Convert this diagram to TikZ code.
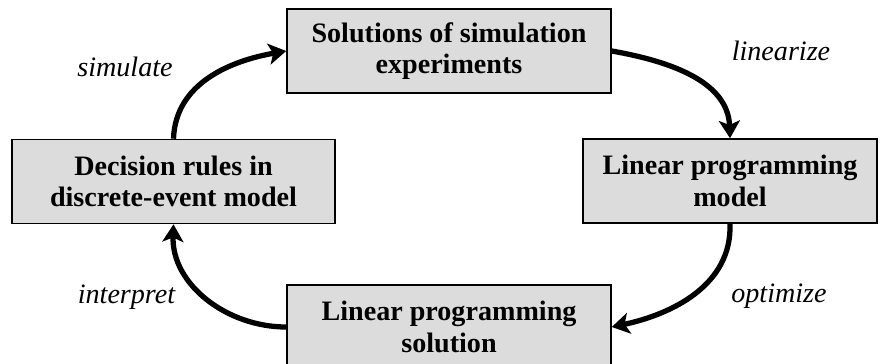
\documentclass[tikz,border=0pt]{standalone}
\usepackage{fontspec}
\setmainfont{Liberation Serif}
\usetikzlibrary{arrows.meta}
\definecolor{boxgray}{HTML}{DCDCDC}

\begin{document}
\begin{tikzpicture}[
    stage/.style={draw=black, line width=0.9pt, fill=boxgray, align=center,
      inner sep=0pt, minimum height=1.68cm,
      font=\fontsize{16}{18}\selectfont\bfseries},
    loop/.style={line width=3pt, -{Stealth[length=10pt,width=12pt,inset=2.5pt]}},
    verb/.style={anchor=base, font=\fontsize{16}{18}\selectfont\itshape}]
  \useasboundingbox (0,0) rectangle (17.6,7.26);
  % Boxes
  \node[stage, minimum width=6.48cm] (experiments) at (8.98,6.24) {Solutions of simulation\\experiments};
  \node[stage, minimum width=5.88cm] (lpmodel) at (14.6,3.64) {Linear programming\\model};
  \node[stage, minimum width=6.48cm] (lpsolution) at (8.98,0.72) {Linear programming\\solution};
  \node[stage, minimum width=6.46cm] (rules) at (3.47,3.63) {Decision rules in\\discrete-event model};
  % Cycle arrows
  \draw[loop] (rules.north) to[out=88,in=190] (experiments.west);
  \draw[loop] (experiments.east) to[out=-10,in=92] (lpmodel.north);
  \draw[loop] (lpmodel.south) to[out=-88,in=12] (lpsolution.east);
  \draw[loop] (lpsolution.west) to[out=180,in=-92] (rules.south);
  % Arrow labels
  \node[verb] (simulate) at (2.5,5.74) {simulate};
  \node[verb] (linearize) at (15.62,6.05) {linearize};
  \node[verb] (optimize) at (15.58,1.22) {optimize};
  \node[verb] (interpret) at (2.53,1.2) {interpret};
\end{tikzpicture}
\end{document}
